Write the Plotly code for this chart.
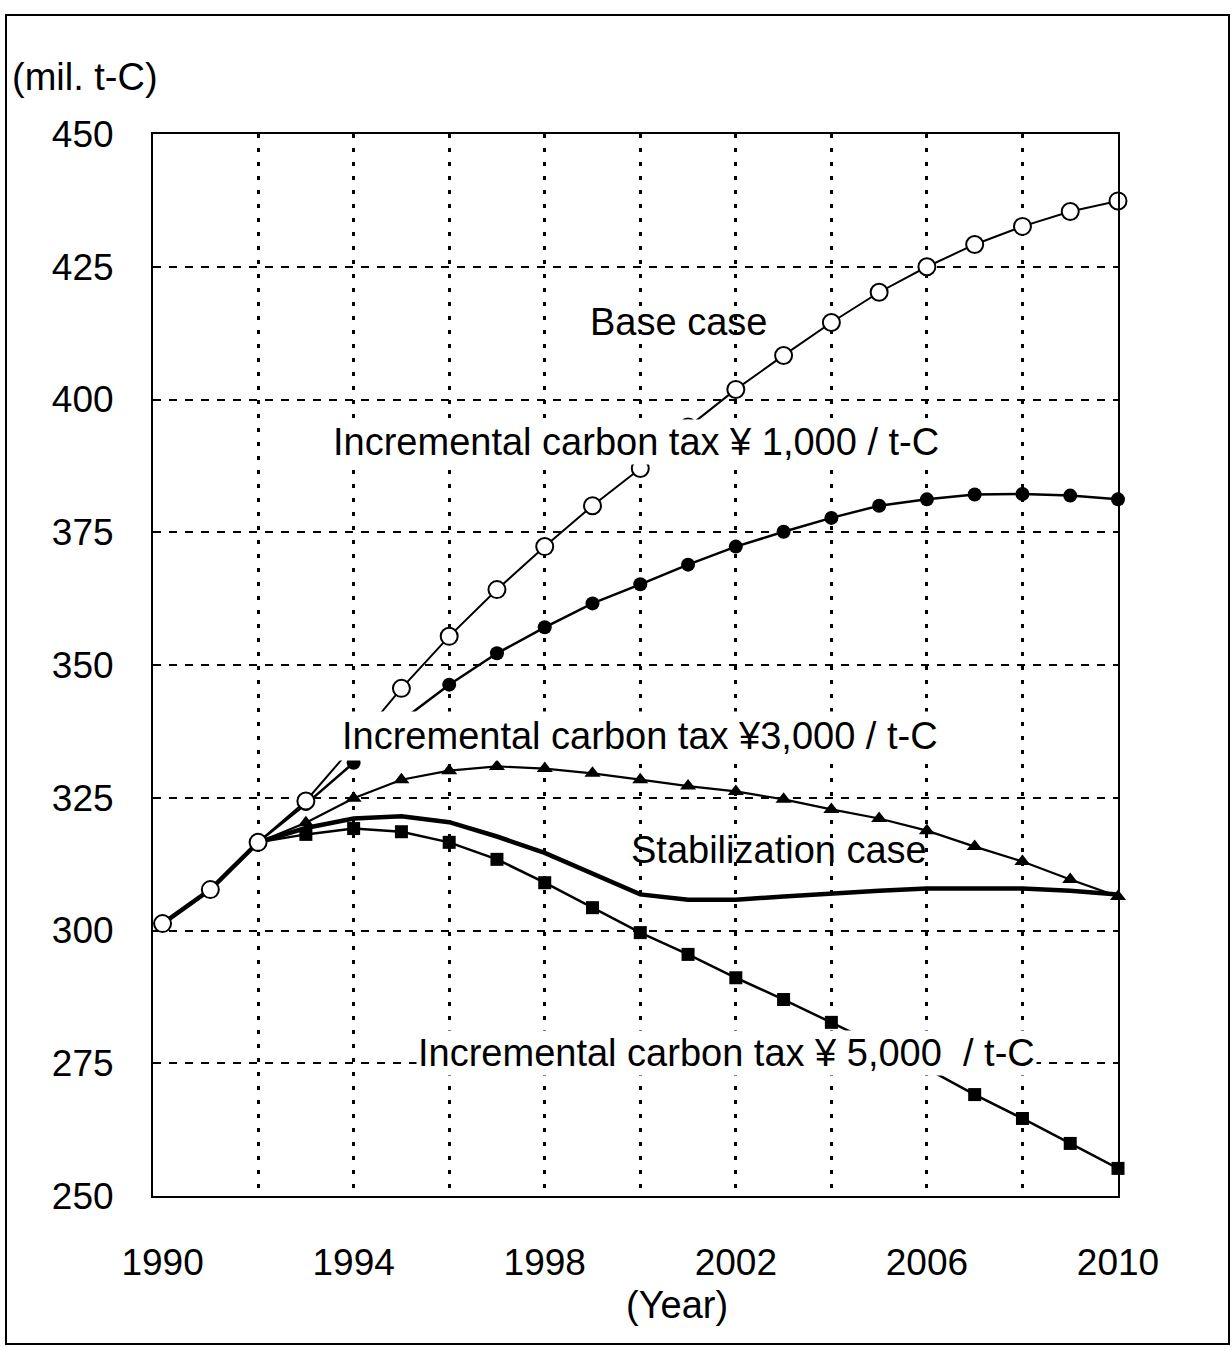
import plotly.graph_objects as go

years = list(range(1990, 2011))
base_case = [301.3, 307.7, 316.6, 324.4, 334.8, 345.6, 355.4, 364.2, 372.3, 380.0, 387.0,
             394.8, 401.9, 408.3, 414.5, 420.2, 425.0, 429.2, 432.6, 435.4, 437.4]
tax_1000 = [301.3, 307.7, 316.6, 323.8, 331.6, 339.5, 346.3, 352.2, 357.1, 361.6, 365.2,
            368.9, 372.3, 375.1, 377.7, 380.0, 381.2, 382.1, 382.2, 381.9, 381.2]
tax_3000 = [301.3, 307.7, 316.6, 320.3, 324.9, 328.4, 330.1, 330.9, 330.5, 329.6, 328.4,
            327.2, 326.2, 324.7, 322.8, 321.1, 318.8, 315.8, 313.0, 309.6, 306.4]
stabilization = [301.3, 307.7, 316.6, 319.3, 321.1, 321.5, 320.4, 317.7, 314.6, 310.6, 306.8,
                 305.8, 305.8, 306.4, 307.0, 307.5, 307.9, 308.0, 307.9, 307.5, 306.8]
tax_5000 = [301.3, 307.7, 316.6, 318.1, 319.2, 318.6, 316.6, 313.4, 309.0, 304.3, 299.6,
            295.5, 291.1, 287.0, 282.7, 278.4, 274.0, 269.1, 264.6, 259.9, 255.2]

y_ticks = [250, 275, 300, 325, 350, 375, 400, 425, 450]
x_grid = list(range(1992, 2010, 2))
x_label_vals = list(range(1990, 2011, 4))
x_labels = [str(v) for v in x_label_vals]

FONT = "Liberation Sans, Arial, sans-serif"
FS = 38
TFS = 37

fig = go.Figure()

fig.add_trace(go.Scatter(x=years, y=stabilization, mode="lines", cliponaxis=False,
                         line=dict(color="black", width=4.5), hoverinfo="skip"))
fig.add_trace(go.Scatter(x=years, y=tax_5000, mode="lines+markers", cliponaxis=False,
                         line=dict(color="black", width=2.5),
                         marker=dict(symbol="square", size=13, color="black")))
fig.add_trace(go.Scatter(x=years, y=tax_3000, mode="lines+markers", cliponaxis=False,
                         line=dict(color="black", width=2.2),
                         marker=dict(symbol="triangle-up", size=14, color="black")))
fig.add_trace(go.Scatter(x=years, y=tax_1000, mode="lines+markers", cliponaxis=False,
                         line=dict(color="black", width=2.5),
                         marker=dict(symbol="circle", size=14, color="black")))
fig.add_trace(go.Scatter(x=years, y=base_case, mode="lines+markers", cliponaxis=False,
                         line=dict(color="black", width=2),
                         marker=dict(symbol="circle", size=17, color="white",
                                     line=dict(color="black", width=2))))
# invisible trace carrying the labelled year axis
fig.add_trace(go.Scatter(x=years, y=base_case, xaxis="x2", mode="markers",
                         marker=dict(opacity=0, size=1), hoverinfo="skip"))

ann_font = dict(family=FONT, size=FS, color="black")
labels = [
    dict(x=2000.8, y=414.6, text="Base case", bg=None, pad=1),
    dict(x=1999.9, y=392.0, text="Incremental carbon tax \u00a5 1,000 / t-C", bg="white", pad=1),
    dict(x=2000.0, y=336.7, text="Incremental carbon tax \u00a53,000 / t-C", bg="white", pad=3),
    dict(x=2002.9, y=315.2, text="Stabilization case", bg=None, pad=1),
    dict(x=2001.8, y=277.0, text="Incremental carbon tax \u00a5 5,000 \u00a0/ t-C", bg="white", pad=1),
]
for a in labels:
    fig.add_annotation(x=a["x"], y=a["y"], xref="x", yref="y", text=a["text"],
                       showarrow=False, font=ann_font, xanchor="center", yanchor="middle",
                       bgcolor=a["bg"] if a["bg"] else "rgba(0,0,0,0)", borderpad=a["pad"])

fig.add_annotation(x=(85 - 153) / 965, y=(1196 - 77) / 1062, xref="paper", yref="paper",
                   text="(mil. t-C)", showarrow=False, font=ann_font,
                   xanchor="center", yanchor="middle")
fig.add_annotation(x=(677 - 153) / 965, y=(1196 - 1305) / 1062, xref="paper", yref="paper",
                   text="(Year)", showarrow=False, font=ann_font,
                   xanchor="center", yanchor="middle")

fig.add_shape(type="rect", xref="paper", yref="paper",
              x0=(6 - 153) / 965, x1=(1229 - 153) / 965,
              y0=(1196 - 1344) / 1062, y1=(1196 - 15) / 1062,
              line=dict(color="black", width=2), fillcolor="rgba(0,0,0,0)", layer="below")

fig.update_layout(
    width=1232, height=1347,
    margin=dict(l=153, r=114, t=134, b=151),
    paper_bgcolor="white", plot_bgcolor="white",
    showlegend=False,
    font=dict(family=FONT, size=TFS, color="black"),
    xaxis=dict(range=[1989.8, 2010], tickvals=x_grid, showticklabels=False,
               showgrid=True, gridcolor="black", gridwidth=2.5, griddash="4px,10px",
               showline=True, linecolor="black", linewidth=2, mirror=True,
               ticks="", zeroline=False),
    xaxis2=dict(range=[1989.8, 2010], overlaying="x", side="bottom", anchor="y",
                tickvals=x_label_vals, ticktext=x_labels, showgrid=False,
                showline=False, ticks="", zeroline=False, ticklabelstandoff=41,
                tickfont=dict(family=FONT, size=TFS, color="black")),
    yaxis=dict(range=[250, 450], tickvals=y_ticks,
               showgrid=True, gridcolor="black", gridwidth=2, griddash="8px,8px",
               showline=True, linecolor="black", linewidth=2, mirror=True,
               ticks="", ticklabelstandoff=30, zeroline=False,
               tickfont=dict(family=FONT, size=TFS, color="black")),
)

fig.write_html("out.html")
